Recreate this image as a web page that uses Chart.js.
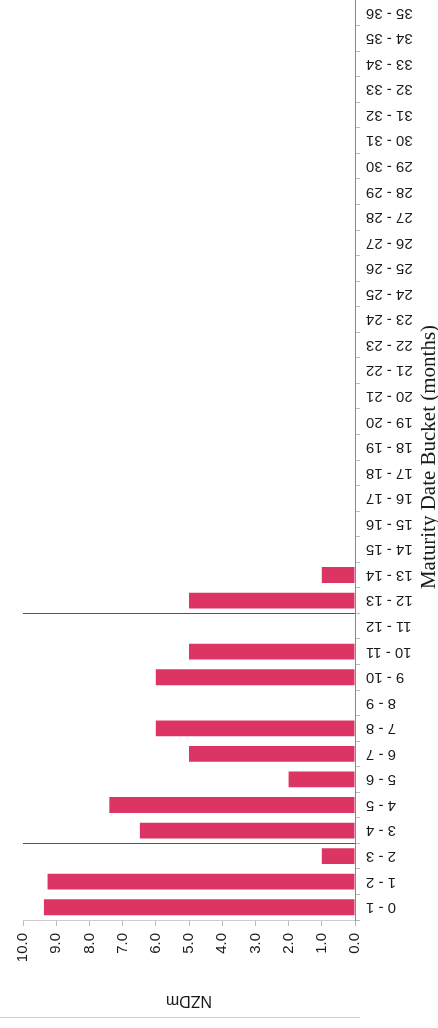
<!DOCTYPE html>
<html>
<head>
<meta charset="utf-8">
<script src="https://cdn.jsdelivr.net/npm/chart.js@4"></script>
<style>
  html, body { margin: 0; padding: 0; background: #fff; overflow: hidden; }
  canvas { display: block; }
</style>
</head>
<body>
<canvas id="maturityChart" width="438" height="1028"></canvas>
<script>
// Maturity buckets (months), drawn from the bottom (0 - 1) upwards
const buckets = ['0 - 1', '1 - 2', '2 - 3', '3 - 4', '4 - 5', '5 - 6', '6 - 7', '7 - 8', '8 - 9',
    '9 - 10', '10 - 11', '11 - 12', '12 - 13', '13 - 14', '14 - 15', '15 - 16', '16 - 17', '17 - 18',
    '18 - 19', '19 - 20', '20 - 21', '21 - 22', '22 - 23', '23 - 24', '24 - 25', '25 - 26', '26 - 27',
    '27 - 28', '28 - 29', '29 - 30', '30 - 31', '31 - 32', '32 - 33', '33 - 34', '34 - 35', '35 - 36'];

// Amount maturing in each bucket, NZD millions
const nzdm = [9.37, 9.26, 1.0, 6.48, 7.4, 2.0, 5.0, 6.0, 0, 6.0, 5.0, 0, 5.0, 1.0,
    0, 0, 0, 0, 0, 0, 0, 0, 0, 0, 0, 0, 0, 0, 0, 0, 0, 0, 0, 0, 0, 0];

// Value axis tick labels
const nzdmTicks = ['0.0', '1.0', '2.0', '3.0', '4.0', '5.0', '6.0', '7.0', '8.0', '9.0', '10.0'];

// Separator lines drawn after these buckets (3 months, 12 months)
const separatorsAfter = ['2 - 3', '11 - 12'];

const axisTitleValue = 'NZDm';
const axisTitleBucket = 'Maturity Date Bucket (months)';

const overlay = {
    id: 'overlay',
    afterDatasetsDraw(chart) {
        const { ctx, chartArea, scales: { x, y } } = chart;
        ctx.save();

        // separator lines across the plot
        ctx.strokeStyle = '#555';
        ctx.lineWidth = 1;
        separatorsAfter.forEach(label => {
            const i = buckets.indexOf(label);
            const py = Math.round((y.getPixelForValue(i) + y.getPixelForValue(i + 1)) / 2) + 0.5;
            ctx.beginPath();
            ctx.moveTo(chartArea.left, py);
            ctx.lineTo(chartArea.right, py);
            ctx.stroke();
        });

        // bucket labels, upside down like the scan
        ctx.font = '15px "Liberation Sans", Arial, sans-serif';
        ctx.fillStyle = '#1a1a1a';
        ctx.textAlign = 'right';
        ctx.textBaseline = 'middle';
        buckets.forEach((label, i) => {
            ctx.save();
            ctx.translate(y.left + 11, y.getPixelForValue(i));
            ctx.rotate(Math.PI);
            ctx.fillText(label, 0, 0);
            ctx.restore();
        });

        // value axis title (upside down)
        ctx.textAlign = 'center';
        ctx.font = '16px "Liberation Sans", Arial, sans-serif';
        ctx.save();
        ctx.translate((chartArea.left + chartArea.right) / 2, 1000);
        ctx.rotate(Math.PI);
        ctx.fillText(axisTitleValue, 0, 0);
        ctx.restore();

        // bucket axis title
        ctx.font = '21px "Liberation Serif", "Times New Roman", serif';
        ctx.save();
        ctx.translate(429, 457);
        ctx.rotate(-Math.PI / 2);
        ctx.fillText(axisTitleBucket, 0, 0);
        ctx.restore();

        // page edge at the bottom of the scan
        ctx.strokeStyle = '#d0d0d0';
        ctx.beginPath();
        ctx.moveTo(0, 1017.5);
        ctx.lineTo(360, 1017.5);
        ctx.stroke();

        ctx.restore();
    }
};

const ctx = document.getElementById('maturityChart').getContext('2d');
const maturityChart = new Chart(ctx, {
    type: 'bar',
    data: {
        labels: buckets,
        datasets: [{
            label: axisTitleValue,
            data: nzdm,
            backgroundColor: '#dc3563',
            borderWidth: 0,
            categoryPercentage: 1.0,
            barPercentage: 0.62
        }]
    },
    options: {
        indexAxis: 'y',
        responsive: false,
        animation: false,
        devicePixelRatio: 1,
        layout: { padding: { left: 23, top: 0, right: 0, bottom: 0 } },
        plugins: {
            legend: { display: false },
            tooltip: { enabled: false }
        },
        scales: {
            x: {
                position: 'bottom',
                reverse: true,
                min: 0,
                max: 10,
                ticks: {
                    stepSize: 1,
                    minRotation: 90,
                    maxRotation: 90,
                    padding: 7,
                    color: '#1a1a1a',
                    font: { family: '"Liberation Sans", Arial, sans-serif', size: 15 },
                    callback: value => nzdmTicks[value]
                },
                grid: { drawOnChartArea: false, tickLength: 6, color: '#bbb' },
                border: { color: '#ccc' },
                afterFit: scale => { scale.height = 108; }
            },
            y: {
                position: 'right',
                reverse: true,
                ticks: { display: false },
                grid: { drawOnChartArea: false, tickLength: 5, color: '#bbb', offset: true },
                border: { color: '#888' },
                afterFit: scale => { scale.width = 83; }
            }
        }
    },
    plugins: [overlay]
});
</script>
</body>
</html>
